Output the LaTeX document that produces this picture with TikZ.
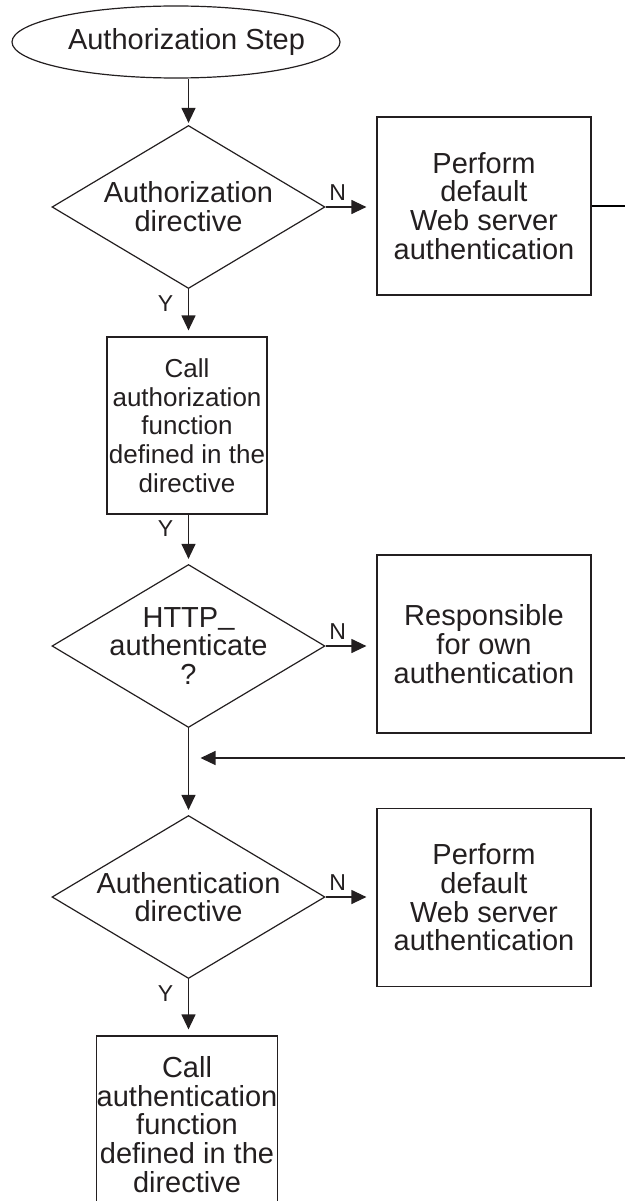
\documentclass[tikz,border=0pt]{standalone}
\usepackage{fontspec}
\setmainfont{Liberation Sans}
\usetikzlibrary{shapes.geometric,arrows.meta}
\definecolor{ink}{HTML}{231F20}
\newcommand{\lowbar}{\raisebox{3pt}{\_}}
\tikzset{
    terminal/.style={draw=ink, ellipse, minimum width=328pt, minimum height=72pt, inner sep=0pt},
    decision/.style={draw=ink, diamond, minimum width=273pt, minimum height=163pt, inner sep=0pt},
    process/.style={draw=ink, rectangle, align=center, inner sep=0pt},
    wide box/.style={process, minimum width=214pt, minimum height=178pt},
    narrow box/.style={process, minimum width=#1, minimum height=177pt},
    flow/.style={draw=ink, -{Triangle[length=15pt,width=14pt]}},
    yn/.style={font=\fontsize{23}{23}\selectfont, text=ink, inner sep=0pt},
    no label/.style={yn, at start, xshift=12pt, yshift=14pt},
    yes label/.style={yn, at start, xshift=-23pt, yshift=-14pt}
}

\begin{document}
\begin{tikzpicture}[x=1pt, y=-1pt, line width=1.2pt, font=\fontsize{29}{28.75}\selectfont, text=ink]
        \useasboundingbox (0,0) rectangle (625,1201);
        \clip (0,0) rectangle (625,1201);

        \node[terminal] (authstep) at (176,42) {};
        \node (authtxt) at (186.5,42) {Authorization Step};

        \foreach \n/\y in {d1/207,d2/646,d3/897} {
            \node[decision] (\n) at (188.5,\y) {};
        }
        \node[align=center] (d1txt) at (d1) {Authorization\\directive};
        \node[align=center] (d2txt) at (d2) {HTTP\lowbar\\authenticate\\?};
        \node[align=center] (d3txt) at (d3) {Authentication\\directive};

        \node[wide box] (b1) at (484,206) {Perform\\default\\Web server\\authentication};
        \node[wide box] (b3) at (484,644) {Responsible\\for own\\authentication};
        \node[wide box] (b4) at (484,897.5) {Perform\\default\\Web server\\authentication};
        \node[narrow box=160pt, font=\fontsize{26}{28.75}\selectfont] (b2) at (187,425.5)
            {Call\\authorization\\function\\defined in the\\directive};
        \node[narrow box=180pt] (b5) at (187,1124.5) {Call\\authentication\\function\\defined in the\\directive};

        \coordinate (exit1) at (625,206);
        \coordinate (reentry) at (625,758);

        \draw[flow, shorten >=2pt] (authstep.south -| d1.north) -- (d1.north);
        \draw[flow, shorten >=10pt] (d1.east) -- node[no label] {N} (d1.east -| b1.west);
        \draw (b1.east) -- (exit1);
        \draw[flow, shorten >=6pt] (d1.south) -- node[yes label] {Y} (d1.south |- b2.north);
        \draw[flow, shorten >=5pt] (b2.south -| d2.north) -- node[yes label] {Y} (d2.north);
        \draw[flow, shorten >=10pt] (d2.east) -- node[no label] {N} (d2.east -| b3.west);
        \draw[flow, shorten >=5pt] (d2.south) -- (d3.north);
        \draw[flow, shorten >=12pt] (reentry) -- (reentry -| d2.south);
        \draw[flow, shorten >=10pt] (d3.east) -- node[no label] {N} (d3.east -| b4.west);
        \draw[flow, shorten >=6pt] (d3.south) -- node[yes label] {Y} (d3.south |- b5.north);
\end{tikzpicture}
\end{document}
